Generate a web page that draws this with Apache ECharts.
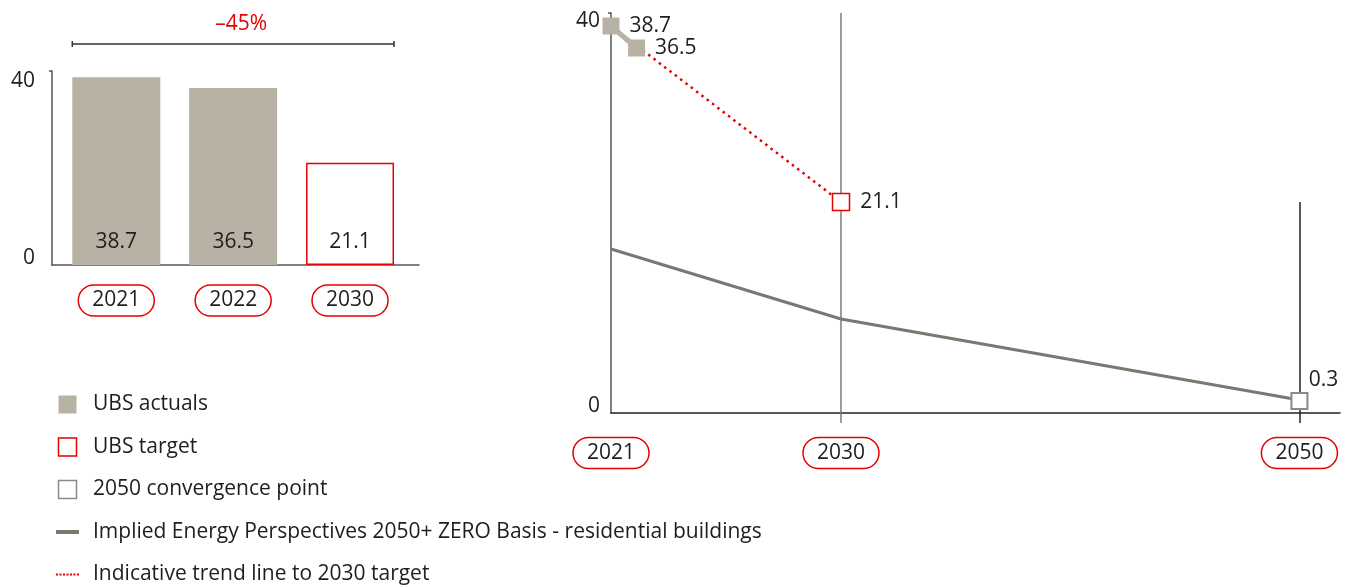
<!DOCTYPE html>
<html>
<head>
<meta charset="utf-8">
<title>Residential buildings – emission intensity</title>
<script src="https://cdn.jsdelivr.net/npm/echarts@6.0.0/dist/echarts.min.js"></script>
<style>
  html, body { margin: 0; padding: 0; background: #fff; }
  #main { width: 1354px; height: 585px; }
</style>
</head>
<body>
<div id="main"></div>
<script>
// values
const barCategories = ['2021', '2022', '2030'];
const actualYears = [2021, 2022];
const actualValues = [38.7, 36.5];
const targetYear = 2030;
const targetValue = 21.1;
const convergenceYear = 2050;
const convergenceValue = 0.3;
const pathwayYears = [2021, 2030, 2050];
const pathwayValues = [16.4, 9.4, 1.3];
const yTicks = [0, 40];

const RED = '#e60000';
const BEIGE = '#b8b2a4';
const GRAY = '#7b7870';
const TEXT = '#1e1e1e';
const FONT = '"Open Sans", sans-serif';
const FS = 21;
const BAR_W = 88;
const yMax = yTicks[yTicks.length - 1];

const chart = echarts.init(document.getElementById('main'));

const pill = {
  color: TEXT, fontFamily: FONT, fontSize: FS, lineHeight: 23,
  borderColor: RED, borderWidth: 1.5, borderRadius: 16, padding: [4, 14, 4, 14]
};

// y labels: top one hangs below its tick, bottom one sits above the axis
function yLabel(margin, padTop, padBottom) {
  return {
    color: TEXT, fontFamily: FONT, fontSize: FS, margin: margin,
    formatter: v => (v === yMax ? '{t|' + v + '}' : '{b|' + v + '}'),
    rich: {
      t: { fontFamily: FONT, fontSize: FS, color: TEXT, padding: [padTop, 0, 0, 0] },
      b: { fontFamily: FONT, fontSize: FS, color: TEXT, padding: [0, 0, padBottom, 0] }
    }
  };
}

const dataLabel = { show: true, position: 'right', distance: 10, color: TEXT, fontFamily: FONT, fontSize: FS };
const squareIcon = 'path://M0,0h18v18h-18z';
const dotsIcon = 'path://M0,0h2v2h-2zM3.5,0h2v2h-2zM7,0h2v2h-2zM10.5,0h2v2h-2zM14,0h2v2h-2zM17.5,0h2v2h-2zM21,0h2v2h-2z';

const targetIdx = barCategories.indexOf(String(targetYear));
const splitA = pathwayYears.map((y, i) => [y, pathwayValues[i]]).filter(p => p[0] <= targetYear);
const splitB = pathwayYears.map((y, i) => [y, pathwayValues[i]]).filter(p => p[0] >= targetYear);

let option = {
  animation: false,
  textStyle: { fontFamily: FONT },
  grid: [
    { left: 52, right: 935, top: 71, bottom: 320 },   // bars
    { left: 611, width: 230, top: 13, bottom: 172 },  // 2021 - 2030
    { left: 841, right: 14, top: 13, bottom: 172 }    // 2030 - 2050
  ],
  xAxis: [
    {
      gridIndex: 0, type: 'value', min: -0.55, max: 2.59,
      splitLine: { show: false },
      axisLine: { show: true, onZero: false, lineStyle: { color: '#555', width: 1.5 } },
      axisTick: { show: false },
      axisLabel: Object.assign({ customValues: [0, 1, 2], margin: 20, formatter: v => barCategories[v] }, pill)
    },
    {
      gridIndex: 1, type: 'value', min: actualYears[0], max: targetYear,
      splitLine: { show: false },
      axisLine: { show: true, onZero: false, lineStyle: { color: '#222', width: 1.5 } },
      axisTick: { show: true, customValues: [targetYear], length: 10, lineStyle: { color: '#7b7b7b', width: 1.5 } },
      axisLabel: Object.assign({ customValues: [actualYears[0], targetYear], margin: 24.5, formatter: v => String(v) }, pill)
    },
    {
      gridIndex: 2, type: 'value', min: targetYear, max: 2051.77,
      splitLine: { show: false },
      axisLine: { show: true, onZero: false, lineStyle: { color: '#222', width: 1.5 } },
      axisTick: { show: true, customValues: [convergenceYear], length: 10, lineStyle: { color: '#222', width: 1.5 } },
      axisLabel: Object.assign({ customValues: [convergenceYear], margin: 24.5, formatter: v => String(v) }, pill)
    }
  ],
  yAxis: [
    {
      gridIndex: 0, type: 'value', min: 0, max: yMax, interval: yMax,
      splitLine: { show: false },
      axisLine: { show: true, onZero: false, lineStyle: { color: '#555', width: 1.5 } },
      axisTick: { show: true, customValues: [yMax], length: 3, lineStyle: { color: '#555', width: 1.5 } },
      axisLabel: yLabel(17, 20, 14)
    },
    {
      gridIndex: 1, type: 'value', min: 0, max: yMax, interval: yMax,
      splitLine: { show: false },
      axisLine: { show: true, onZero: false, lineStyle: { color: '#555', width: 1.5 } },
      axisTick: { show: true, customValues: [yMax], length: 3, lineStyle: { color: '#555', width: 1.5 } },
      axisLabel: yLabel(11, 16, 14)
    },
    { gridIndex: 2, type: 'value', min: 0, max: yMax, show: false }
  ],
  legend: {
    orient: 'vertical', left: 56, top: 394, height: 230, padding: 0,
    itemWidth: 23, itemHeight: 18, itemGap: 21.5,
    selectedMode: false,
    textStyle: { color: TEXT, fontFamily: FONT, fontSize: FS, lineHeight: 20, padding: [0, 0, 0, 9] },
    data: [
      { name: 'UBS actuals', icon: squareIcon, itemStyle: { color: BEIGE, borderWidth: 0 } },
      { name: 'UBS target', icon: squareIcon, itemStyle: { color: '#fff', borderColor: RED, borderWidth: 1.5 } },
      { name: '2050 convergence point', icon: squareIcon, itemStyle: { color: '#fff', borderColor: '#8a8a8a', borderWidth: 1.5 } },
      { name: 'Implied Energy Perspectives 2050+ ZERO Basis - residential buildings', icon: 'path://M0,0h23v4h-23z', itemStyle: { color: GRAY, borderWidth: 0 } },
      { name: 'Indicative trend line to 2030 target', icon: dotsIcon, itemStyle: { color: RED, borderWidth: 0 } }
    ]
  },
  series: [
    {
      name: 'UBS actuals', type: 'bar', xAxisIndex: 0, yAxisIndex: 0,
      barWidth: BAR_W, barGap: '-100%',
      itemStyle: { color: BEIGE },
      label: { show: true, position: 'insideBottom', distance: 12, color: TEXT, fontFamily: FONT, fontSize: FS },
      data: actualValues.map((v, i) => [i, v])
    },
    {
      name: 'UBS target', type: 'bar', xAxisIndex: 0, yAxisIndex: 0,
      barWidth: BAR_W, barGap: '-100%',
      itemStyle: { color: '#fff', borderColor: RED, borderWidth: 1.5 },
      label: { show: true, position: 'insideBottom', distance: 12, color: TEXT, fontFamily: FONT, fontSize: FS },
      data: [[targetIdx, targetValue]]
    },
    {
      name: 'Implied Energy Perspectives 2050+ ZERO Basis - residential buildings',
      type: 'line', xAxisIndex: 1, yAxisIndex: 1, clip: false,
      symbol: 'none', lineStyle: { color: GRAY, width: 3 }, itemStyle: { color: GRAY },
      data: splitA,
      markLine: {
        silent: true, symbol: ['none', 'none'], label: { show: false },
        lineStyle: { color: '#7b7b7b', width: 1.5, type: 'solid' },
        data: [[{ coord: [targetYear, yMax] }, { coord: [targetYear, 0] }]]
      },
      z: 2
    },
    {
      name: 'Implied Energy Perspectives 2050+ ZERO Basis - residential buildings',
      type: 'line', xAxisIndex: 2, yAxisIndex: 2, clip: false,
      symbol: 'none', lineStyle: { color: GRAY, width: 3 }, itemStyle: { color: GRAY },
      data: splitB,
      markLine: {
        silent: true, symbol: ['none', 'none'], label: { show: false },
        lineStyle: { color: '#222', width: 1.5, type: 'solid' },
        data: [[{ coord: [convergenceYear, targetValue] }, { coord: [convergenceYear, 0] }]]
      },
      z: 2
    },
    {
      name: 'Indicative trend line to 2030 target',
      type: 'line', xAxisIndex: 1, yAxisIndex: 1, clip: false,
      symbol: 'none', itemStyle: { color: RED },
      lineStyle: { color: RED, width: 2.5, type: [2.5, 4.2] },
      data: [[actualYears[0], actualValues[0]], [targetYear, targetValue]],
      z: 3
    },
    {
      name: 'UBS actuals', type: 'line', xAxisIndex: 1, yAxisIndex: 1, clip: false,
      symbol: 'rect', symbolSize: 17, itemStyle: { color: BEIGE },
      lineStyle: { color: BEIGE, width: 5 },
      label: dataLabel,
      data: actualYears.map((y, i) => [y, actualValues[i]]),
      z: 4
    },
    {
      name: 'UBS target', type: 'scatter', xAxisIndex: 1, yAxisIndex: 1, clip: false,
      symbol: 'rect', symbolSize: 17,
      itemStyle: { color: '#fff', borderColor: RED, borderWidth: 1.5, opacity: 1 },
      label: dataLabel,
      data: [[targetYear, targetValue]],
      z: 5
    },
    {
      name: '2050 convergence point', type: 'scatter', xAxisIndex: 2, yAxisIndex: 2, clip: false,
      symbol: 'rect', symbolSize: 16, symbolOffset: [0, -9],
      itemStyle: { color: '#fff', borderColor: '#8a8a8a', borderWidth: 2, opacity: 1 },
      label: { show: true, position: 'top', offset: [24, 4], color: TEXT, fontFamily: FONT, fontSize: FS },
      data: [[convergenceYear, convergenceValue]],
      z: 5
    }
  ]
};
chart.setOption(option);

// –45% bracket above the bars, placed from the bar axis
const bx0 = chart.convertToPixel({ xAxisIndex: 0 }, 0) - BAR_W / 2;
const bx1 = chart.convertToPixel({ xAxisIndex: 0 }, targetIdx) + BAR_W / 2;
const by = chart.convertToPixel({ yAxisIndex: 0 }, yMax) - 27;
const change = Math.round((targetValue - actualValues[0]) / actualValues[0] * 100);
const bracketStyle = { stroke: '#333', lineWidth: 1.5 };
chart.setOption({
  graphic: [
    { type: 'line', shape: { x1: bx0, y1: by, x2: bx1, y2: by }, style: bracketStyle },
    { type: 'line', shape: { x1: bx0, y1: by - 3, x2: bx0, y2: by + 3 }, style: bracketStyle },
    { type: 'line', shape: { x1: bx1, y1: by - 3, x2: bx1, y2: by + 3 }, style: bracketStyle },
    {
      type: 'text', x: (bx0 + bx1) / 2 + 8, y: by - 9,
      style: { text: (change < 0 ? '–' : '+') + Math.abs(change) + '%', fill: RED, font: FS + 'px ' + FONT, align: 'center', verticalAlign: 'bottom' }
    }
  ]
});
</script>
</body>
</html>
